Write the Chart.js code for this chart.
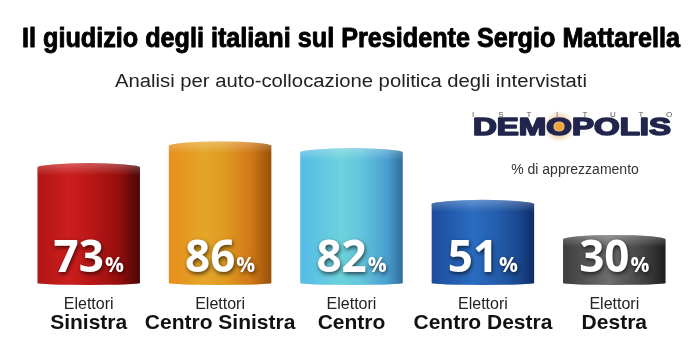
<!DOCTYPE html>
<html><head><meta charset="utf-8">
<script src="https://cdn.jsdelivr.net/npm/chart.js@4"></script>
<style>html,body{margin:0;padding:0;background:#fff}#wrap{width:700px;height:363px;position:relative}</style>
</head><body><div id="wrap"><canvas id="c"></canvas></div>
<script>
// ---- data ----
const categories = ['Sinistra', 'Centro Sinistra', 'Centro', 'Centro Destra', 'Destra'];
const categoryPrefix = 'Elettori';
const values = [73, 86, 82, 51, 30];
const valueSuffix = '%';
const titleText = 'Il giudizio degli italiani sul Presidente Sergio Mattarella';
const subtitleText = 'Analisi per auto-collocazione politica degli intervistati';
const noteText = '% di apprezzamento';
const brandTop = ['I','S','T','I','T','U','T','O'];
const brandName = ['DEM', 'O', 'POLIS'];

// ---- styles ----
const barStops = [
  [[0,'#b01515'],[0.3,'#cc1e1e'],[0.55,'#b71616'],[0.8,'#940e0e'],[1,'#4c0707']],
  [[0,'#e88e1c'],[0.35,'#e3a628'],[0.55,'#e09a22'],[0.8,'#d07816'],[1,'#985008']],
  [[0,'#55bbe6'],[0.4,'#6dd2dc'],[0.6,'#62c4dc'],[0.85,'#4a9ed0'],[1,'#2f6e9a']],
  [[0,'#1c4c9c'],[0.4,'#2a6cc0'],[0.6,'#2560b0'],[0.85,'#1a4890'],[1,'#0e2c64']],
  [[0,'#3c3c3c'],[0.45,'#6e6e6e'],[0.6,'#5a5a5a'],[0.85,'#393939'],[1,'#1d1d1d']]
];

function fitText(ctx, text, font, cx, baseline, width, color, stroke) {
  ctx.save();
  ctx.font = font;
  const w = ctx.measureText(text).width;
  ctx.translate(cx, baseline);
  ctx.scale(width / w, 1);
  ctx.textAlign = 'center';
  ctx.textBaseline = 'alphabetic';
  ctx.fillStyle = color;
  ctx.fillText(text, 0, 0);
  if (stroke) {
    ctx.strokeStyle = color;
    ctx.lineWidth = stroke;
    ctx.lineJoin = 'round';
    ctx.strokeText(text, 0, 0);
  }
  ctx.restore();
}

const decor = {
  id: 'decor',
  afterDatasetsDraw(chart) {
    const ctx = chart.ctx;
    const meta = chart.getDatasetMeta(0);
    meta.data.forEach((el, i) => {
      const p = el.getProps(['x', 'y', 'base', 'width'], true);
      const l = p.x - p.width / 2, r = p.x + p.width / 2;
      const ry = 4.5, rb = 2;
      const g = ctx.createLinearGradient(l, 0, r, 0);
      barStops[i].forEach(s => g.addColorStop(s[0], s[1]));
      ctx.save();
      ctx.beginPath();
      ctx.moveTo(l, p.y + ry);
      ctx.ellipse(p.x, p.y + ry, p.width / 2, ry, 0, Math.PI, 0, false);
      ctx.lineTo(r, p.base - rb);
      ctx.ellipse(p.x, p.base - rb, p.width / 2, rb, 0, 0, Math.PI, false);
      ctx.closePath();
      ctx.fillStyle = g;
      ctx.fill();
      // soft top highlight
      ctx.clip();
      const hg = ctx.createLinearGradient(0, p.y, 0, p.y + 12);
      hg.addColorStop(0, 'rgba(255,255,255,0.28)');
      hg.addColorStop(1, 'rgba(255,255,255,0)');
      ctx.fillStyle = hg;
      ctx.fillRect(l, p.y, p.width, 12);
      ctx.restore();

      // value label
      ctx.save();
      const num = String(values[i]);
      ctx.font = 'bold 44px "Open Sans", sans-serif';
      const wn = ctx.measureText(num).width;
      ctx.font = 'bold 21px "Open Sans", sans-serif';
      const wp = ctx.measureText(valueSuffix).width;
      const start = p.x - (wn + wp + 1) / 2;
      const bl = p.base - 13;
      ctx.shadowColor = 'rgba(0,0,0,0.65)';
      ctx.shadowBlur = 4;
      ctx.shadowOffsetX = 1;
      ctx.shadowOffsetY = 2;
      ctx.fillStyle = '#ffffff';
      ctx.textAlign = 'left';
      ctx.textBaseline = 'alphabetic';
      ctx.font = 'bold 44px "Open Sans", sans-serif';
      ctx.fillText(num, start, bl);
      ctx.font = 'bold 21px "Open Sans", sans-serif';
      ctx.fillText(valueSuffix, start + wn + 1, bl);
      ctx.restore();

      // category labels
      ctx.save();
      ctx.textAlign = 'center';
      ctx.textBaseline = 'alphabetic';
      ctx.fillStyle = '#222';
      ctx.font = '16px "Liberation Sans", Arial, sans-serif';
      ctx.fillText(categoryPrefix, p.x, p.base + 24);
      ctx.fillStyle = '#111';
      ctx.font = 'bold 21px "Liberation Sans", Arial, sans-serif';
      ctx.fillText(categories[i], p.x, p.base + 44);
      ctx.restore();
    });
  },
  afterDraw(chart) {
    const ctx = chart.ctx;
    fitText(ctx, titleText, 'bold 27px "Liberation Sans", Arial, sans-serif', 351, 47, 658, '#000', 0.9);
    fitText(ctx, subtitleText, '18px "Liberation Sans", Arial, sans-serif', 351, 87, 472, '#222');

    // brand
    ctx.save();
    ctx.fillStyle = '#555';
    ctx.font = '8px "Liberation Sans", Arial, sans-serif';
    ctx.textAlign = 'center';
    ctx.textBaseline = 'alphabetic';
    brandTop.forEach((ch, k) => ctx.fillText(ch, 473 + k * (196 / 7), 117));
    ctx.restore();

    ctx.save();
    const bfont = 'bold 24px "Liberation Sans", Arial, sans-serif';
    ctx.font = bfont;
    const full = brandName.join('');
    const w = ctx.measureText(full).width;
    const s = 198 / w;
    const wDem = ctx.measureText(brandName[0]).width;
    const wO = ctx.measureText(brandName[1]).width;
    const ox = 473 + s * (wDem + wO / 2), oy = 126.5;
    const rg = ctx.createRadialGradient(ox, oy, 0, ox, oy, 16);
    rg.addColorStop(0, 'rgba(240,150,40,0.9)');
    rg.addColorStop(0.5, 'rgba(220,140,50,0.45)');
    rg.addColorStop(1, 'rgba(220,160,80,0)');
    ctx.fillStyle = rg;
    ctx.beginPath(); ctx.arc(ox, oy, 16, 0, Math.PI * 2); ctx.fill();
    ctx.translate(473, 135);
    ctx.scale(s, 1.0);
    ctx.fillStyle = '#22254c';
    ctx.strokeStyle = '#22254c';
    ctx.lineWidth = 1.6;
    ctx.lineJoin = 'round';
    ctx.textAlign = 'left';
    ctx.textBaseline = 'alphabetic';
    ctx.fillText(full, 0, 0);
    ctx.strokeText(full, 0, 0);
    ctx.restore();
    ctx.save();
    ctx.fillStyle = '#f2a23a';
    ctx.beginPath(); ctx.arc(ox, oy, 4, 0, Math.PI * 2); ctx.fill();
    ctx.restore();

    ctx.save();
    ctx.fillStyle = '#333';
    ctx.font = '14px "Liberation Sans", Arial, sans-serif';
    ctx.textAlign = 'center';
    ctx.textBaseline = 'middle';
    ctx.fillText(noteText, 575, 170);
    ctx.restore();
  }
};

new Chart(document.getElementById('c'), {
  type: 'bar',
  data: {
    labels: categories,
    datasets: [{
      data: values,
      backgroundColor: 'rgba(0,0,0,0)',
      borderWidth: 0,
      barPercentage: 0.78,
      categoryPercentage: 1
    }]
  },
  options: {
    responsive: true,
    maintainAspectRatio: false,
    animation: false,
    layout: { padding: { left: 23, right: 20, top: 118, bottom: 78 } },
    scales: {
      x: { display: false },
      y: { display: false, min: 0, max: 100 }
    },
    plugins: { legend: { display: false }, tooltip: { enabled: false } }
  },
  plugins: [decor]
});
</script>
</body></html>
